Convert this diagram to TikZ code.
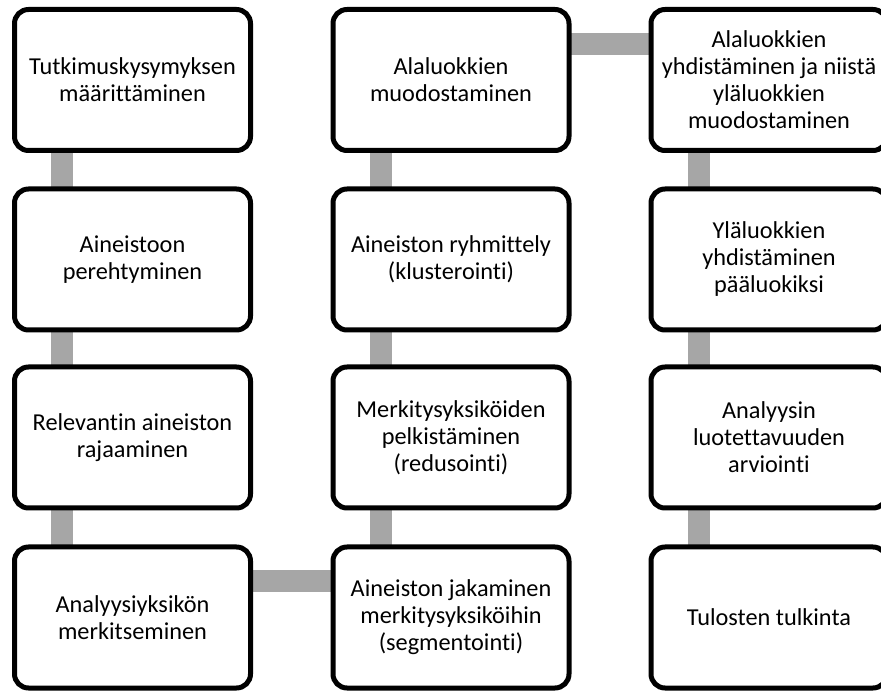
\documentclass[tikz,border=0pt]{standalone}
\usepackage{xcolor}
\usepackage{fontspec}
\setmainfont{Carlito}[Ligatures=NoCommon]
\usetikzlibrary{backgrounds}

\definecolor{linkgray}{HTML}{A6A6A6}

\begin{document}
\begin{tikzpicture}[x=1pt, y=1pt,
    stepbox/.style={draw=black, line width=5pt, fill=white, rounded corners=14pt,
      minimum width=236pt, minimum height=141pt, inner sep=0pt, outer sep=0pt,
      align=center, font=\fontsize{24.3}{27}\selectfont},
    link/.style={draw=linkgray, line width=22pt}]
      % \draw[help lines, gray!50, very thin] (0,0) grid[step=50] (881,691);
      \useasboundingbox (0,0) rectangle (881,691);

      \node[stepbox] (a1) at (132.5,611)   {Tutkimuskysymyksen\\määrittäminen};
      \node[stepbox] (a2) at (132.5,431.5) {Aineistoon\\perehtyminen};
      \node[stepbox] (a3) at (132.5,253.5) {Relevantin aineiston\\rajaaminen};
      \node[stepbox] (a4) at (132.5,73.5)  {Analyysiyksikön\\merkitseminen};

      \node[stepbox] (b4) at (451,73.5)  {Aineiston jakaminen\\merkitysyksiköihin\\(segmentointi)};
      \node[stepbox] (b3) at (451,253.5) {Merkitysyksiköiden\\pelkistäminen\\(redusointi)};
      \node[stepbox] (b2) at (451,431.5) {Aineiston ryhmittely\\(klusterointi)};
      \node[stepbox] (b1) at (451,611)   {Alaluokkien\\muodostaminen};

      \node[stepbox] (c1) at (769,611)   {Alaluokkien\\yhdistäminen ja niistä\\yläluokkien\\muodostaminen};
      \node[stepbox] (c2) at (769,431.5) {Yläluokkien\\yhdistäminen\\pääluokiksi};
      \node[stepbox] (c3) at (769,253.5) {Analyysin\\luotettavuuden\\arviointi};
      \node[stepbox] (c4) at (769,73.5)  {Tulosten tulkinta};

      \begin{scope}[on background layer]
        \draw[link] ([xshift=47.5]a1.south west) -- ([xshift=47.5]a2.north west);
        \draw[link] ([xshift=47.5]a2.south west) -- ([xshift=47.5]a3.north west);
        \draw[link] ([xshift=47.5]a3.south west) -- ([xshift=47.5]a4.north west);
        \draw[link] ([yshift=-34.5]a4.north east) -- ([yshift=-34.5]b4.north west);
        \draw[link] ([xshift=47.5]b4.north west) -- ([xshift=47.5]b3.south west);
        \draw[link] ([xshift=47.5]b3.north west) -- ([xshift=47.5]b2.south west);
        \draw[link] ([xshift=47.5]b2.north west) -- ([xshift=47.5]b1.south west);
        \draw[link] ([yshift=-34.5]b1.north east) -- ([yshift=-34.5]c1.north west);
        \draw[link] ([xshift=47.5]c1.south west) -- ([xshift=47.5]c2.north west);
        \draw[link] ([xshift=47.5]c2.south west) -- ([xshift=47.5]c3.north west);
        \draw[link] ([xshift=47.5]c3.south west) -- ([xshift=47.5]c4.north west);
      \end{scope}
    \end{tikzpicture}
\end{document}
